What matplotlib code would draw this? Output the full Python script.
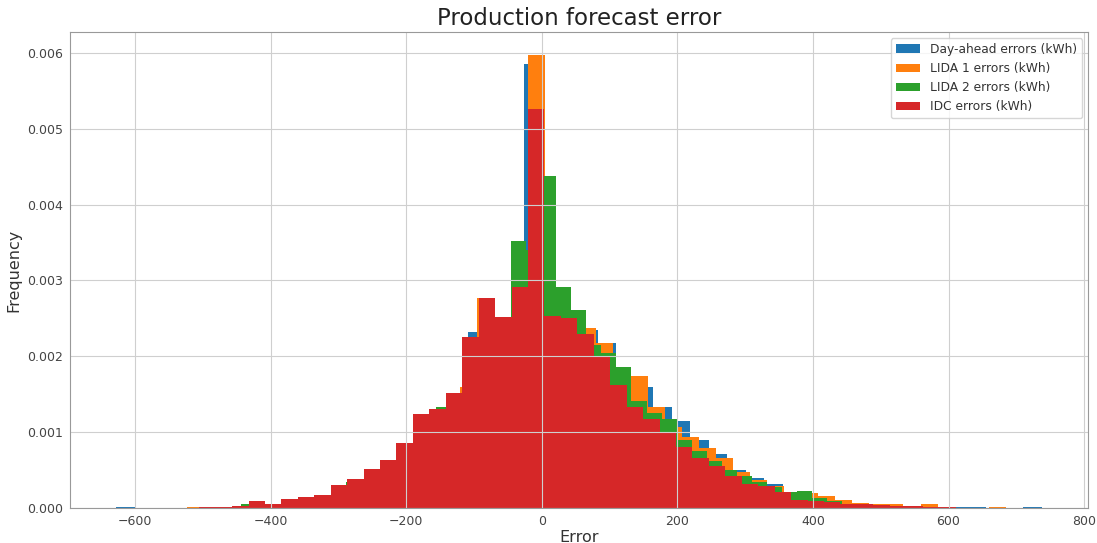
import numpy as np
import matplotlib
matplotlib.use('Agg')
import matplotlib.pyplot as plt

# histogram bins per series: first edge, bin width (kWh), 50 bins each
dayahead_start, dayahead_width = -627.2, 27.3
lida1_start, lida1_width = -573.9, 25.17
lida2_start, lida2_width = -531.8, 22.14
idc_start, idc_width = -602.2, 24.25

# densities
dayahead = [0.00001, 0.000005, 0.000005, 0.000005, 0.00001, 0.00001, 0.00002, 0.00003, 0.00006, 0.00012,
            0.00014, 0.00017, 0.0003, 0.00038, 0.0005, 0.00062, 0.0012, 0.0013, 0.00125, 0.00232,
            0.0024, 0.0025, 0.005855, 0.0028, 0.0025, 0.00235, 0.00218, 0.0017, 0.0016, 0.00134,
            0.00115, 0.0009, 0.00072, 0.00051, 0.0004, 0.000325, 0.0002, 0.00012, 0.00009, 0.00007,
            0.00005, 0.00003, 0.00003, 0.00002, 0.00002, 0.00001, 0.00001, 0.000005, 0.000005, 0.00001]

lida1 = [0.000005, 0.000005, 0.00001, 0.00001, 0.00002, 0.00003, 0.00006, 0.00006, 0.00012, 0.00014,
         0.00018, 0.0003, 0.00038, 0.0005, 0.0006, 0.00083, 0.0012, 0.0013, 0.0016, 0.00277,
         0.0025, 0.0029, 0.005974, 0.0028, 0.0025, 0.00238, 0.00218, 0.0018, 0.00174, 0.001336,
         0.00107, 0.00094, 0.00079, 0.00066, 0.00048, 0.00037, 0.00029, 0.00022, 0.0002, 0.00016,
         0.00011, 0.00007, 0.00005, 0.00006, 0.00003, 0.00005, 0.00001, 0.000005, 0.000005, 0.00002]

lida2 = [0.000005, 0.000005, 0.00001, 0.00001, 0.00005, 0.00006, 0.00006, 0.00012, 0.00014, 0.00017,
         0.0003, 0.00035, 0.00039, 0.0005, 0.00062, 0.00085, 0.0012, 0.001336, 0.0015, 0.0022,
         0.0025, 0.0025, 0.003517, 0.0034, 0.00437, 0.00292, 0.00261, 0.00215, 0.00205, 0.001863,
         0.00141, 0.00125, 0.00117, 0.0009, 0.00075, 0.00062, 0.00051, 0.00042, 0.00035, 0.00028,
         0.00022, 0.00023, 0.00013, 0.0001, 0.00006, 0.00005, 0.00003, 0.00002, 0.00001, 0.00001]

idc = [0.000005, 0.000005, 0.000005, 0.000008, 0.00001, 0.00002, 0.00003, 0.00009, 0.000062, 0.000128,
       0.000149, 0.00018, 0.000303, 0.00039, 0.000523, 0.000633, 0.000853, 0.001235, 0.00131, 0.00152,
       0.00225, 0.002765, 0.002515, 0.00291, 0.00526, 0.002536, 0.0025, 0.002295, 0.001987, 0.00162,
       0.001336, 0.00118, 0.001006, 0.00081, 0.000668, 0.000554, 0.000426, 0.000325, 0.00029, 0.000215,
       0.000114, 0.000097, 0.00008, 0.00006, 0.00005, 0.00004, 0.00003, 0.00003, 0.00002, 0.00001]

series = [
    ('Day-ahead errors (kWh)', dayahead_start, dayahead_width, dayahead),
    ('LIDA 1 errors (kWh)', lida1_start, lida1_width, lida1),
    ('LIDA 2 errors (kWh)', lida2_start, lida2_width, lida2),
    ('IDC errors (kWh)', idc_start, idc_width, idc),
]

fig = plt.figure(figsize=(10.97, 5.43), dpi=100)
ax = fig.add_axes([0.064, 0.064, 0.928, 0.877])

for label, start, width, values in series:
    edges = start + width * np.arange(len(values) + 1)
    ax.hist(edges[:-1], bins=edges, weights=values, label=label)

ax.set_title('Production forecast error', fontsize=16.5, pad=5, color='#222222')
ax.set_xlabel('Error', fontsize=11.5, labelpad=1, color='#333333')
ax.set_ylabel('Frequency', fontsize=11.5, labelpad=4, color='#333333')
ax.tick_params(labelsize=9, length=0, pad=5, labelcolor='#444444')
for side in ax.spines.values():
    side.set_color('#999999')
ax.grid(True, color='#cfcfcf')
ax.legend(loc='upper right', fontsize=8.8, labelcolor='#333333')

fig.savefig('out.png', dpi=100)
